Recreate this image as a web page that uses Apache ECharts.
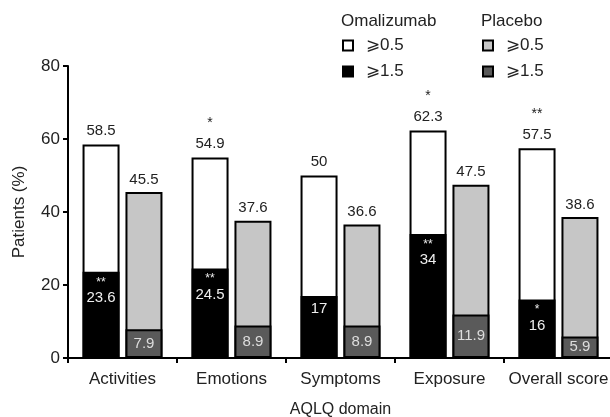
<!DOCTYPE html>
<html>
<head>
<meta charset="utf-8">
<script src="https://cdn.jsdelivr.net/npm/echarts@6/dist/echarts.min.js"></script>
<style>
  html, body { margin: 0; padding: 0; background: #fff; }
  #chart { width: 610px; height: 417px; }
</style>
</head>
<body>
<div id="chart"></div>
<script>
const domains = ['Activities', 'Emotions', 'Symptoms', 'Exposure', 'Overall score'];
const omal05 = [58.5, 54.9, 50, 62.3, 57.5];
const omal15 = [23.6, 24.5, 17, 34, 16];
const plac05 = [45.5, 37.6, 36.6, 47.5, 38.6];
const plac15 = [7.9, 8.9, 8.9, 11.9, 5.9];
// significance marks
const starsTop = ['', '*', '', '*', '**'];
const starsLow = ['**', '**', '', '**', '*'];
const yTicks = [0, 20, 40, 60, 80];

const font = 'Liberation Sans, Arial, sans-serif';
const txt = '#222';

const chart = echarts.init(document.getElementById('chart'));

const barBase = {
  type: 'bar',
  barWidth: 37,
  barGap: '16%',
  yAxisIndex: 0
};

const legendText = { fontSize: 17, color: txt, fontFamily: font, padding: [0, 0, 0, 8] };
const headText = { fontSize: 17, fontWeight: 'normal', color: txt, fontFamily: font };

const option = {
  animation: false,
  textStyle: { fontFamily: font, color: txt },
  title: [
    { text: 'Omalizumab', left: 341, top: 13, padding: 0, textStyle: headText },
    { text: 'Placebo', left: 481, top: 13, padding: 0, textStyle: headText }
  ],
  legend: [
    {
      left: 342, top: 37, padding: 0, orient: 'vertical', itemWidth: 10, itemHeight: 10, itemGap: 9,
      icon: 'rect',
      data: ['Omalizumab ⩾0.5', 'Omalizumab ⩾1.5'],
      formatter: n => n.split(' ')[1],
      textStyle: legendText
    },
    {
      left: 482, top: 37, padding: 0, orient: 'vertical', itemWidth: 10, itemHeight: 10, itemGap: 9,
      icon: 'rect',
      data: ['Placebo ⩾0.5', 'Placebo ⩾1.5'],
      formatter: n => n.split(' ')[1],
      textStyle: legendText
    }
  ],
  grid: { left: 68, right: -3, top: 66, bottom: 59, containLabel: false, outerBoundsMode: 'none' },
  xAxis: [
    {
      type: 'category',
      data: domains,
      name: 'AQLQ domain',
      nameLocation: 'middle',
      nameGap: 44,
      nameTextStyle: { fontSize: 16, color: txt },
      axisLine: { lineStyle: { color: '#000', width: 2 } },
      axisTick: { show: true, length: 5, lineStyle: { color: '#000', width: 2 } },
      axisLabel: { fontSize: 17, color: txt, margin: 13, interval: 0, align: 'center', hideOverlap: false }
    },
    {
      type: 'category',
      data: domains,
      show: false
    }
  ],
  yAxis: {
    type: 'value',
    min: yTicks[0],
    max: yTicks[yTicks.length - 1],
    interval: 20,
    name: 'Patients (%)',
    nameLocation: 'middle',
    nameGap: 40,
    nameTextStyle: { fontSize: 17, color: txt },
    axisLine: { show: true, lineStyle: { color: '#000', width: 2 } },
    axisTick: { show: true, length: 5, lineStyle: { color: '#000', width: 2 } },
    axisLabel: { fontSize: 17, color: txt, margin: 8 },
    splitLine: { show: false }
  },
  series: [
    Object.assign({}, barBase, {
      name: 'Omalizumab ⩾0.5',
      xAxisIndex: 0,
      data: omal05,
      itemStyle: { color: '#fff', borderColor: '#000', borderWidth: 2 },
      label: {
        show: true, position: 'top', distance: 5,
        formatter: p => (starsTop[p.dataIndex] ? '{s|' + starsTop[p.dataIndex] + '}\n' : '') + '{v|' + p.value + '}',
        rich: {
          s: { fontSize: 14, lineHeight: 24, color: txt, fontFamily: font },
          v: { fontSize: 15, lineHeight: 17, color: txt, fontFamily: font }
        }
      }
    }),
    Object.assign({}, barBase, {
      name: 'Placebo ⩾0.5',
      xAxisIndex: 0,
      data: plac05,
      itemStyle: { color: '#c6c6c6', borderColor: '#000', borderWidth: 2 },
      label: {
        show: true, position: 'top', distance: 5,
        fontSize: 15, color: txt, fontFamily: font
      }
    }),
    Object.assign({}, barBase, {
      name: 'Omalizumab ⩾1.5',
      xAxisIndex: 1,
      data: omal15,
      itemStyle: { color: '#000', borderColor: '#000', borderWidth: 2 },
      label: {
        show: true, position: 'insideTop', distance: 4,
        formatter: p => (starsLow[p.dataIndex] ? '{s|' + starsLow[p.dataIndex] + '}\n' : '') + '{v|' + p.value + '}',
        rich: {
          s: { fontSize: 12, lineHeight: 13, color: '#eee', fontFamily: font },
          v: { fontSize: 15, lineHeight: 18, color: '#eee', fontFamily: font }
        }
      }
    }),
    Object.assign({}, barBase, {
      name: 'Placebo ⩾1.5',
      xAxisIndex: 1,
      data: plac15,
      itemStyle: { color: '#5a5a5a', borderColor: '#000', borderWidth: 2 },
      label: {
        show: true, position: 'inside',
        fontSize: 15, color: '#ddd', fontFamily: font
      }
    })
  ]
};

chart.setOption(option);
</script>
</body>
</html>
